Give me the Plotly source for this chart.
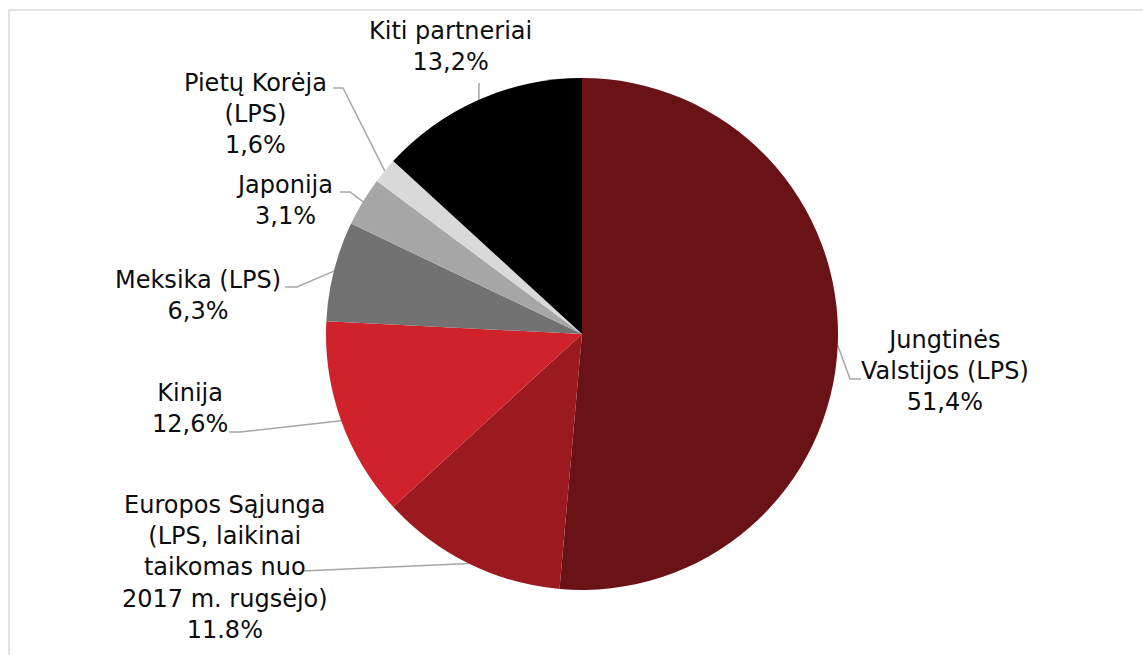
import math
import plotly.graph_objects as go

# ---- data ----
categories = [
    "Jungtinės<br>Valstijos (LPS)",
    "Europos Sąjunga<br>(LPS, laikinai<br>taikomas nuo<br>2017 m. rugsėjo)",
    "Kinija",
    "Meksika (LPS)",
    "Japonija",
    "Pietų Korėja<br>(LPS)",
    "Kiti partneriai",
]
shares = [51.4, 11.8, 12.6, 6.3, 3.1, 1.6, 13.2]
value_labels = ["51,4%", "11.8%", "12,6%", "6,3%", "3,1%", "1,6%", "13,2%"]
colors = ["#6a1317", "#9b1a20", "#d0222a", "#727272", "#a6a6a6", "#d9d9d9", "#000000"]

# ---- layout constants (pixels) ----
W, H = 1143, 655
cx, cy, r = 582, 334, 256
# label block centres and leader-line routing (label side)
label_pos = [(945, 371), (225, 567), (190, 408), (198, 295), (284, 200), (255, 114), (450, 46)]
leader_tail = [
    [(850, 379), (861, 379)],
    [(303, 571)],
    [(240, 432), (229, 432)],
    [(297, 287), (285, 287)],
    [(350, 192), (340, 192)],
    [(343, 88), (333, 88)],
    [(479, 83)],
]

fig = go.Figure()
fig.add_trace(go.Pie(
    values=shares,
    labels=[c.replace("<br>", " ") for c in categories],
    sort=False,
    direction="clockwise",
    rotation=0,
    marker=dict(colors=colors, line=dict(width=0)),
    textinfo="none",
    hoverinfo="label+percent",
    showlegend=False,
    domain=dict(x=[(cx - r) / W, (cx + r) / W], y=[1 - (cy + r) / H, 1 - (cy - r) / H]),
))

total = sum(shares)
cum = 0.0
annotations = []
for i, v in enumerate(shares):
    mid = (cum + v / 2) / total * 2 * math.pi
    cum += v
    ex = cx + r * math.sin(mid)
    ey = cy - r * math.cos(mid)
    pts = [(ex, ey)] + leader_tail[i]
    fig.add_trace(go.Scatter(
        x=[p[0] for p in pts], y=[p[1] for p in pts],
        mode="lines", line=dict(color="#a6a6a6", width=1.5),
        hoverinfo="skip", showlegend=False, xaxis="x", yaxis="y",
    ))
    lx, ly = label_pos[i]
    annotations.append(dict(
        x=lx, y=ly, xref="x", yref="y",
        text=categories[i] + "<br>" + value_labels[i],
        showarrow=False, xanchor="center", yanchor="middle", align="center",
        font=dict(family="DejaVu Sans", size=24, color="#0d0d0d"),
    ))

fig.update_layout(
    width=W, height=H,
    margin=dict(l=0, r=0, t=0, b=0),
    paper_bgcolor="white", plot_bgcolor="rgba(0,0,0,0)",
    xaxis=dict(range=[0, W], visible=False, fixedrange=True),
    yaxis=dict(range=[H, 0], visible=False, fixedrange=True),
    annotations=annotations,
    shapes=[dict(type="rect", xref="x", yref="y", x0=9, y0=10, x1=W + 20, y1=H + 20,
                 line=dict(color="#d9d9d9", width=1.5), layer="below")],
)

fig.write_html(
    "out.html",
    config={"displayModeBar": False},
    post_script="document.body.style.margin='0';document.body.style.overflow='hidden';",
)
